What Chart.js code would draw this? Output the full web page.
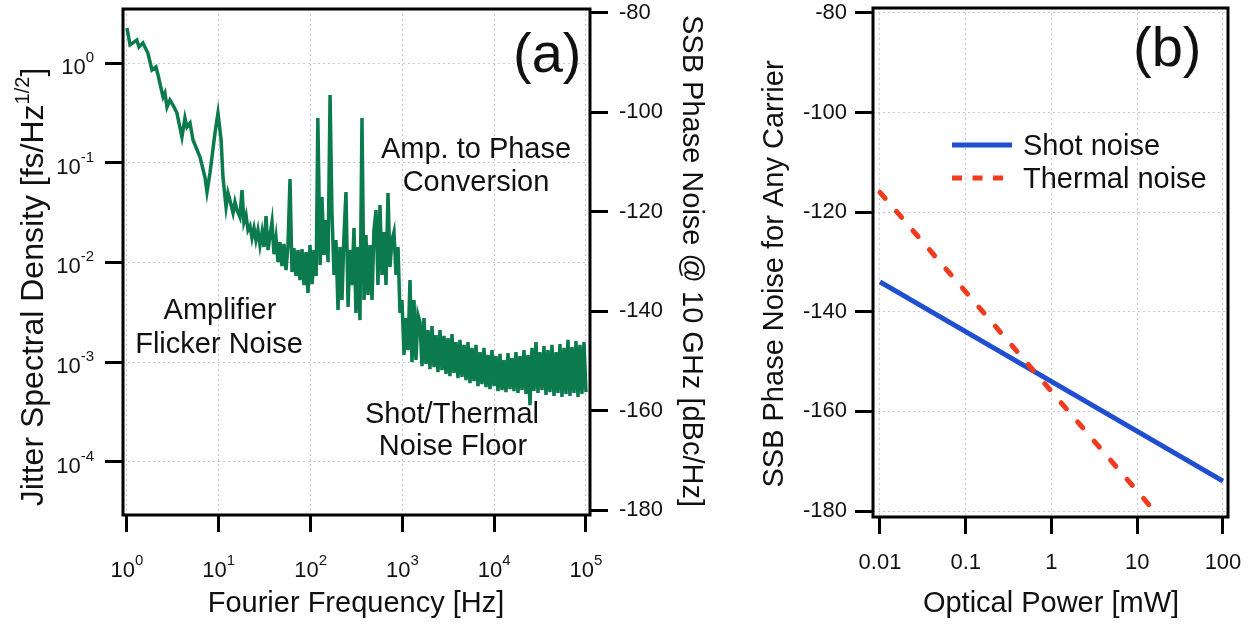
<!DOCTYPE html>
<html lang="en">
<head>
<meta charset="UTF-8">
<title>Jitter spectral density and SSB phase noise</title>
<style>
  body { margin: 0; background: #fff; }
  .panel { position: absolute; top: 0; }
  #panelA { left: 0; width: 720px; height: 625px; }
  #panelB { left: 720px; width: 536px; height: 625px; }
</style>
</head>
<body>
<div class="panel" id="panelA"><canvas id="chartA" width="720" height="625"></canvas></div>
<div class="panel" id="panelB"><canvas id="chartB" width="536" height="625"></canvas></div>

<script src="https://cdn.jsdelivr.net/npm/chart.js"></script>
<script>
// ---- panel (a): jitter spectrum ----
const freqHz = [
  // 1 - 20 Hz
  1.00, 1.08, 1.16, 1.28, 1.35, 1.49, 1.69, 1.87, 2.07, 2.18,
  2.47, 2.59, 2.73, 2.94, 3.17, 3.50, 3.97, 4.28, 4.50, 4.86,
  5.24, 6.24, 7.07, 7.44, 8.02, 9.09, 9.80, 10.6, 11.1, 12.0,
  12.6, 13.2, 14.3, 15.0, 15.8, 17.0, 17.9, 18.8, 19.8, 20.8,
  // 20 Hz - 1.5 kHz
  21.9, 23.0, 24.2, 25.4, 26.7, 28.1, 29.6, 31.1, 32.7, 34.4,
  36.1, 38.0, 39.9, 42.0, 44.2, 46.4, 48.8, 51.3, 54.0, 56.7,
  59.7, 62.7, 65.9, 69.3, 72.9, 76.6, 80.6, 84.7, 89.1, 93.7,
  98.5, 104, 109, 115, 120, 127, 133, 140, 147, 155,
  163, 171, 180, 189, 199, 209, 220, 231, 243, 256,
  269, 282, 297, 312, 328, 345, 363, 382, 401, 422,
  444, 467, 490, 516, 542, 570, 600, 630, 663, 697,
  733, 770, 810, 852, 896, 942, 990, 1041, 1094, 1151,
  1210, 1272, 1338, 1406, 1479,
  // noise floor
  1555, 1635, 1719, 1807, 1900, 1998, 2101, 2209, 2323, 2442,
  2568, 2700, 2839, 2985, 3139, 3300, 3470, 3649, 3836, 4034,
  4241, 4459, 4688, 4930, 5183, 5450, 5730, 6025, 6335, 6661,
  7003, 7364, 7743, 8141, 8560, 9000, 9463, 9950, 10460, 11000,
  11570, 12160, 12790, 13440, 14140, 14860, 15630, 16430, 17280, 18170,
  19100, 20090, 21120, 22210, 23350, 24550, 25810, 27140, 28530, 30000,
  31540, 33170, 34870, 36670, 38550, 40530, 42620, 44810, 47120, 49540,
  52090, 54770, 57590, 60550, 63660, 66930, 70380, 74000, 77800, 81800,
  86010, 90440, 95100, 100000
];
const jitter = [
  2.24, 1.52, 1.59, 1.70, 1.45, 1.59, 1.26, 0.851, 0.912, 0.758,
  0.456, 0.500, 0.362, 0.425, 0.379, 0.315, 0.181, 0.281, 0.228, 0.250,
  0.169, 0.114, 0.0719, 0.0509, 0.0788, 0.199, 0.315, 0.169, 0.0719, 0.0360,
  0.0497, 0.0423, 0.0313, 0.0404, 0.0335, 0.0285, 0.0532, 0.0254, 0.0299, 0.0211,

  0.0232, 0.0176, 0.0221, 0.0168, 0.0211, 0.0149, 0.0202, 0.0143, 0.0292, 0.0133,
  0.0184, 0.0254, 0.0121, 0.0176, 0.0101, 0.0160, 0.00920, 0.0153, 0.00839, 0.0146,
  0.0687, 0.00801, 0.0139, 0.00731, 0.0133, 0.00666, 0.0136, 0.00593, 0.0127, 0.00493,
  0.0149, 0.00607, 0.0133, 0.00731, 0.281, 0.00942, 0.0453, 0.0119, 0.0266, 0.0101,
  0.478, 0.0313, 0.00748, 0.0168, 0.00333, 0.0143, 0.00420, 0.0184, 0.0508, 0.00357,
  0.0133, 0.00593, 0.0221, 0.00311, 0.0143, 0.00264, 0.281, 0.00420, 0.0188, 0.00471,
  0.0149, 0.00420, 0.0211, 0.0335, 0.00593, 0.0377, 0.00748, 0.0202, 0.00593, 0.0497,
  0.00899, 0.0168, 0.0202, 0.00748, 0.0143, 0.00311, 0.00420, 0.00118, 0.00277, 0.00132,
  0.00666, 0.00100, 0.00420, 0.00105, 0.00297,

  2.52e-3, 9.1e-4, 2.77e-3, 9.6e-4, 2.10e-3, 8.5e-4, 2.30e-3, 8.9e-4, 1.87e-3, 7.95e-4,
  2.10e-3, 8.33e-4, 1.83e-3, 7.6e-4, 1.74e-3, 7.25e-4, 1.91e-3, 7.8e-4, 1.59e-3, 6.9e-4,
  1.67e-3, 7.1e-4, 1.49e-3, 6.61e-4, 1.59e-3, 6.16e-4, 1.39e-3, 6.46e-4, 1.49e-3, 5.75e-4,
  1.26e-3, 6.0e-4, 1.39e-3, 5.6e-4, 1.18e-3, 5.37e-4, 1.32e-3, 5.75e-4, 1.15e-3, 5.13e-4,
  1.21e-3, 5.25e-4, 1.05e-3, 5.0e-4, 1.23e-3, 5.37e-4, 1.10e-3, 5.13e-4, 1.26e-3, 4.9e-4,
  1.15e-3, 5.25e-4, 1.32e-3, 4.8e-4, 1.18e-3, 3.71e-4, 1.39e-3, 5.13e-4, 1.59e-3, 4.9e-4,
  1.26e-3, 5.25e-4, 1.45e-3, 4.68e-4, 1.32e-3, 5.0e-4, 1.49e-3, 4.57e-4, 1.26e-3, 4.9e-4,
  1.52e-3, 4.47e-4, 1.39e-3, 4.8e-4, 1.67e-3, 4.57e-4, 1.42e-3, 4.9e-4, 1.63e-3, 4.47e-4,
  1.49e-3, 4.8e-4, 1.59e-3, 5.0e-4
];
const freqTicks = [1, 10, 100, 1000, 10000, 100000];
const jitterTicks = [1e-4, 1e-3, 1e-2, 1e-1, 1];
const phaseTicks = [-180, -160, -140, -120, -100, -80];

// ---- panel (b): noise floors vs optical power ----
const shotPower = [0.01, 100];
const shotNoise = [-134, -174];
const thermalPower = [0.01, 13.8];
const thermalNoise = [-116, -178.8];
const powerTicks = [0.01, 0.1, 1, 10, 100];
const powerTickLabels = ['0.01', '0.1', '1', '10', '100'];
const ssbTicks = [-180, -160, -140, -120, -100, -80];

const FONT = '"Liberation Sans", Arial, Helvetica, sans-serif';
const TEXT = '#111';
const gridColor = '#c4c6ee';
Chart.defaults.font.family = FONT;
Chart.defaults.color = TEXT;

// draw a run of text pieces (size, rise) centred or aligned at x
function richText(ctx, parts, x, y, align) {
  let total = 0;
  parts.forEach(p => { ctx.font = p.size + 'px ' + FONT; p.w = ctx.measureText(p.text).width; total += p.w; });
  let cx = align === 'center' ? x - total / 2 : (align === 'right' ? x - total : x);
  ctx.textAlign = 'left';
  ctx.textBaseline = 'alphabetic';
  parts.forEach(p => {
    ctx.font = p.size + 'px ' + FONT;
    ctx.fillText(p.text, cx, y - (p.rise || 0));
    cx += p.w;
  });
}

function powerLabel(ctx, exp, x, y, align) {
  richText(ctx, [{ text: '10', size: 22 }, { text: String(exp), size: 15, rise: 12 }], x, y, align);
}

function centerText(ctx, text, x, y, size) {
  ctx.font = size + 'px ' + FONT;
  ctx.textAlign = 'center';
  ctx.textBaseline = 'alphabetic';
  ctx.fillText(text, x, y);
}

const panelAPlugin = {
  id: 'panelAText',
  afterDraw(chart) {
    const { ctx, chartArea: ca, scales } = chart;
    ctx.save();
    ctx.strokeStyle = '#000';
    ctx.lineWidth = 3;
    ctx.strokeRect(ca.left, ca.top, ca.right - ca.left, ca.bottom - ca.top);

    ctx.fillStyle = TEXT;
    freqTicks.forEach(v => {
      powerLabel(ctx, Math.round(Math.log10(v)), scales.x.getPixelForValue(v), ca.bottom + 62, 'center');
    });
    jitterTicks.forEach(v => {
      powerLabel(ctx, Math.round(Math.log10(v)), ca.left - 29, scales.y.getPixelForValue(v) + 11, 'right');
    });

    // axis titles
    centerText(ctx, 'Fourier Frequency [Hz]', 356, 612, 29);

    ctx.save();
    ctx.translate(43, 287);
    ctx.rotate(-Math.PI / 2);
    richText(ctx, [
      { text: 'Jitter Spectral Density [fs/Hz', size: 32 },
      { text: '1/2', size: 20, rise: 14 },
      { text: ']', size: 32 }
    ], 0, 0, 'center');
    ctx.restore();

    ctx.save();
    ctx.translate(683, 261);
    ctx.rotate(Math.PI / 2);
    centerText(ctx, 'SSB Phase Noise @ 10 GHz [dBc/Hz]', 0, 0, 29);
    ctx.restore();

    // annotations
    centerText(ctx, 'Amp. to Phase', 476, 158, 29);
    centerText(ctx, 'Conversion', 476, 191, 29);
    centerText(ctx, 'Amplifier', 220, 319, 29);
    centerText(ctx, 'Flicker Noise', 219, 353, 29);
    centerText(ctx, 'Shot/Thermal', 452, 423, 29);
    centerText(ctx, 'Noise Floor', 453, 455, 29);

    ctx.font = '56px ' + FONT;
    ctx.textAlign = 'left';
    ctx.fillText('(a)', 513, 72);
    ctx.restore();
  }
};

const panelBPlugin = {
  id: 'panelBText',
  afterDraw(chart) {
    const { ctx, chartArea: ca } = chart;
    ctx.save();
    ctx.strokeStyle = '#000';
    ctx.lineWidth = 3;
    ctx.strokeRect(ca.left, ca.top, ca.right - ca.left, ca.bottom - ca.top);

    ctx.fillStyle = TEXT;
    centerText(ctx, 'Optical Power [mW]', 331, 612, 29);
    ctx.save();
    ctx.translate(63, 274);
    ctx.rotate(-Math.PI / 2);
    centerText(ctx, 'SSB Phase Noise for Any Carrier', 0, 0, 29);
    ctx.restore();

    // legend
    const rows = [145, 178];
    chart.data.datasets.forEach((ds, i) => {
      const y = rows[i];
      ctx.save();
      ctx.strokeStyle = ds.borderColor;
      ctx.lineWidth = 5;
      ctx.setLineDash(ds.borderDash ? [10, 10.5] : []);
      ctx.beginPath();
      ctx.moveTo(232, y);
      ctx.lineTo(ds.borderDash ? 283 : 292, y);
      ctx.stroke();
      ctx.restore();
      ctx.font = '29px ' + FONT;
      ctx.textAlign = 'left';
      ctx.textBaseline = 'alphabetic';
      ctx.fillText(ds.label, 303, y + 10);
    });

    ctx.font = '56px ' + FONT;
    ctx.textAlign = 'left';
    ctx.fillText('(b)', 413, 66);
    ctx.restore();
  }
};

const gridOpts = (len) => ({
  color: gridColor, lineWidth: 1, drawTicks: true,
  tickLength: len, tickWidth: 3, tickColor: '#000'
});

new Chart(document.getElementById('chartA'), {
  type: 'line',
  data: {
    datasets: [{
      label: 'Jitter spectral density',
      data: freqHz.map((f, i) => ({ x: f, y: jitter[i] })),
      borderColor: '#0b7a4c',
      borderWidth: 3.5,
      borderJoinStyle: 'miter',
      pointRadius: 0,
      tension: 0,
      fill: false,
      yAxisID: 'y'
    }]
  },
  options: {
    responsive: false,
    animation: false,
    layout: { padding: { top: 9, right: 0, bottom: 0, left: 0 } },
    plugins: { legend: { display: false }, tooltip: { enabled: false } },
    scales: {
      x: {
        type: 'logarithmic', position: 'bottom', bounds: 'data',
        min: 0.905, max: 1.106e5,
        afterBuildTicks: s => { s.ticks = freqTicks.map(v => ({ value: v })); },
        afterFit: s => { s.height = 110; s.paddingLeft = 0; s.paddingRight = 0; },
        ticks: { display: false },
        grid: gridOpts(17),
        border: { display: false, dash: [2, 3] }
      },
      y: {
        type: 'logarithmic', position: 'left', bounds: 'data',
        min: 2.93e-5, max: 3.48,
        afterBuildTicks: s => { s.ticks = jitterTicks.map(v => ({ value: v })); },
        afterFit: s => { s.width = 123; s.paddingTop = 0; s.paddingBottom = 0; },
        ticks: { display: false },
        grid: gridOpts(18),
        border: { display: false, dash: [2, 3] }
      },
      y2: {
        type: 'linear', position: 'right', bounds: 'data',
        min: -181, max: -79.2,
        afterBuildTicks: s => { s.ticks = phaseTicks.map(v => ({ value: v })); },
        afterFit: s => { s.width = 130; s.paddingTop = 0; s.paddingBottom = 0; },
        ticks: { font: { size: 22 }, padding: 11, callback: v => String(v) },
        grid: Object.assign(gridOpts(18), { drawOnChartArea: false }),
        border: { display: false }
      }
    }
  },
  plugins: [panelAPlugin]
});

new Chart(document.getElementById('chartB'), {
  type: 'line',
  data: {
    datasets: [
      {
        label: 'Shot noise',
        data: shotPower.map((p, i) => ({ x: p, y: shotNoise[i] })),
        borderColor: '#1f4fd0',
        borderWidth: 5,
        pointRadius: 0,
        order: 1
      },
      {
        label: 'Thermal noise',
        data: thermalPower.map((p, i) => ({ x: p, y: thermalNoise[i] })),
        borderColor: '#f23a1c',
        borderWidth: 5,
        borderDash: [8, 17.25],
        borderCapStyle: 'round',
        pointRadius: 0,
        order: 0
      }
    ]
  },
  options: {
    responsive: false,
    animation: false,
    layout: { padding: { top: 8, right: 28, bottom: 0, left: 0 } },
    plugins: { legend: { display: false }, tooltip: { enabled: false } },
    scales: {
      x: {
        type: 'logarithmic', position: 'bottom', bounds: 'data',
        min: 0.00829, max: 114.4,
        afterBuildTicks: s => { s.ticks = powerTicks.map(v => ({ value: v })); },
        afterFit: s => { s.height = 108; s.paddingLeft = 0; s.paddingRight = 0; },
        ticks: {
          font: { size: 22 }, padding: 16, maxRotation: 0, autoSkip: false,
          callback: (v, i) => powerTickLabels[i]
        },
        grid: gridOpts(17),
        border: { display: false, dash: [2, 3] }
      },
      y: {
        type: 'linear', position: 'left', bounds: 'data',
        min: -181.2, max: -79.0,
        afterBuildTicks: s => { s.ticks = ssbTicks.map(v => ({ value: v })); },
        afterFit: s => { s.width = 153; s.paddingTop = 0; s.paddingBottom = 0; },
        ticks: { font: { size: 22 }, padding: 8, callback: v => String(v) },
        grid: gridOpts(18),
        border: { display: false, dash: [2, 3] }
      }
    }
  },
  plugins: [panelBPlugin]
});
</script>
</body>
</html>
